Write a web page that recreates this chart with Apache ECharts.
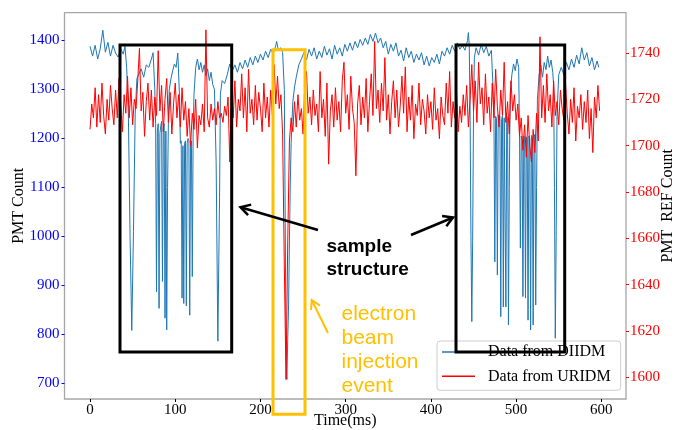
<!DOCTYPE html>
<html><head><meta charset="utf-8">
<script src="https://cdn.jsdelivr.net/npm/echarts@6/dist/echarts.min.js"></script>
<style>html,body{margin:0;padding:0;background:#fff}#c{width:675px;height:430px}</style>
</head><body><div id="c"></div>
<script>
// ---- tick labels ----
const xTicks = [0, 100, 200, 300, 400, 500, 600];
const leftTicks = [700, 800, 900, 1000, 1100, 1200, 1300, 1400];
const rightTicks = [1600, 1620, 1640, 1660, 1680, 1700, 1720, 1740];
const seriesNames = ['Data from DIIDM', 'Data from URIDM'];

// ---- DIIDM (blue, left axis): time (ms) and PMT count ----
const blueTime = [0,3,6,9,12,15,18,21,24,27,30,33,36,39,41,43,45,47,49,51,53,55,57,60,63,66,69,72,74,76,
77,78,79,80,81,82,83,84,85,86,87,88,89,90,91,92,93,95,97,99,101,103,105,106,107,108,109,110,111,112,
113,114,115,116,117,118,119,120,121,122,124,126,128,130,132,134,136,138,140,142,144,146,148,150,152,153,155,158,161,164,
167,170,173,176,179,182,185,188,191,194,197,200,203,206,209,212,215,218,219,221,224,226,228,229,230,231,232,233,234,235,
236,237,238,240,242,245,248,251,254,257,260,263,266,269,272,275,278,281,284,287,290,293,296,299,302,305,308,311,314,317,
320,323,326,329,332,335,338,341,344,347,350,353,356,359,362,365,368,371,374,377,380,383,386,389,392,395,398,401,404,407,
410,413,416,419,422,425,428,431,434,437,440,443,444,445,446,447,448,449,450,451,453,456,459,462,465,468,471,473,474,475,
476,477,478,479,480,481,482,483,484,485,486,487,488,489,490,491,492,493,495,497,499,501,503,504,505,506,507,508,509,510,
511,512,513,514,515,516,517,518,519,520,521,522,523,524,525,527,529,531,533,535,537,539,541,543,544,545,546,547,548,550,
553,556,559,562,565,568,571,574,577,580,583,586,589,592,595,597];
const blueCount = [1388,1368,1390,1362,1383,1421,1376,1396,1368,1390,1374,1366,1383,1372,1388,1345,1250,1000,808,1010,1250,1322,1318,1342,1325,1350,1345,1362,1375,1300,
1230,887,1215,1230,853,1210,1225,1235,908,1220,1230,833,1215,809,1100,1240,1300,1322,1338,1352,1345,1374,1285,1190,1195,874,1185,863,1190,1195,
858,1190,1200,1195,839,1185,1195,918,1210,1290,1345,1362,1340,1355,1335,1350,1328,1342,1318,1335,1310,1300,1150,786,1080,1290,1318,1312,1330,1352,
1338,1350,1335,1355,1342,1360,1345,1365,1350,1368,1355,1372,1360,1378,1365,1382,1372,1390,1398,1380,1385,1375,1300,1050,760,708,790,860,990,1110,
1190,1235,1275,1305,1325,1350,1362,1375,1360,1382,1368,1385,1362,1378,1365,1388,1370,1383,1362,1390,1372,1385,1368,1392,1378,1395,1380,1398,1385,1402,
1390,1405,1392,1412,1398,1415,1395,1405,1385,1398,1372,1392,1378,1395,1368,1380,1358,1385,1365,1378,1355,1372,1360,1375,1350,1368,1348,1365,1355,1372,
1352,1378,1368,1385,1372,1390,1378,1395,1382,1390,1380,1400,1416,1390,1250,1000,826,990,1250,1365,1385,1370,1392,1375,1388,1368,1380,1300,1240,948,
1245,1240,921,1248,1240,1245,836,1238,1246,856,1242,1238,856,1245,1240,819,1100,1290,1330,1352,1338,1362,1345,1210,976,1205,1198,877,1205,1200,
874,1203,1198,829,1205,1200,809,1206,1198,819,1203,1208,860,1100,1280,1330,1350,1325,1355,1340,1368,1345,1360,1335,1310,1100,792,1000,1250,1330,
1345,1330,1355,1340,1362,1345,1370,1352,1385,1360,1375,1348,1365,1340,1358,1345];

// ---- URIDM (red, right axis): one reading every 2 ms from 0 ms ----
const redStepMs = 2;
const redCount = [1707,1718,1712,1725,1708,1722,1710,1727,1713,1705,
1720,1711,1726,1716,1709,1724,1712,1729,1718,1706,
1722,1714,1730,1712,1725,1709,1720,1716,1728,1742,
1715,1723,1704,1719,1727,1711,1724,1708,1721,1713,
1741,1715,1726,1706,1720,1729,1710,1723,1705,1718,
1727,1712,1722,1708,1725,1711,1719,1704,1716,1700,
1714,1707,1720,1699,1713,1709,1718,1706,1750,1712,
1708,1718,1711,1716,1709,1719,1712,1714,1710,1717,
1713,1721,1693,1724,1712,1728,1708,1720,1715,1731,
1712,1725,1706,1733,1714,1720,1709,1726,1711,1723,
1716,1706,1727,1712,1721,1708,1724,1713,1735,1718,
1730,1716,1722,1705,1648,1599,1658,1702,1712,1706,
1719,1708,1722,1711,1716,1705,1726,1732,1714,1721,
1709,1724,1713,1718,1706,1732,1712,1720,1704,1727,
1692,1715,1722,1708,1725,1711,1719,1706,1728,1736,
1714,1722,1707,1730,1716,1710,1687,1718,1726,1709,
1721,1712,1729,1706,1719,1731,1713,1745,1716,1724,
1710,1727,1715,1738,1711,1722,1705,1719,1728,1712,
1724,1708,1717,1730,1714,1734,1706,1721,1711,1726,
1703,1718,1713,1727,1709,1720,1715,1705,1722,1712,
1719,1707,1725,1711,1716,1703,1721,1713,1709,1727,
1714,1732,1708,1719,1712,1724,1706,1717,1710,1722,
1713,1726,1708,1720,1735,1715,1728,1710,1736,1718,
1725,1709,1731,1714,1721,1706,1727,1712,1733,1717,
1708,1724,1713,1736,1710,1719,1705,1728,1715,1722,
1711,1718,1704,1712,1698,1709,1695,1713,1700,1693,
1707,1697,1714,1702,1747,1712,1726,1710,1731,1715,
1722,1708,1728,1713,1719,1709,1724,1716,1711,1727,
1714,1705,1720,1710,1725,1702,1717,1712,1722,1707,
1719,1710,1724,1703,1716,1697,1721,1712,1726,1715];

const blueData = blueTime.map((t, i) => [t, blueCount[i]]);
const redData = redCount.map((v, i) => [i * redStepMs, v]);

const serif = '"Liberation Serif", "Times New Roman", serif';
const sans = '"Liberation Sans", Arial, sans-serif';
const YEL = '#FFC000';
const plain = v => String(v);

function arrow(x1, y1, x2, y2, color, w, len) {
  const dx = x2 - x1, dy = y2 - y1, L = Math.hypot(dx, dy);
  const bx = -dx / L, by = -dy / L, a = Math.PI / 6, c = Math.cos(a), s = Math.sin(a);
  const p1 = [x2 + len * (bx * c - by * s), y2 + len * (bx * s + by * c)];
  const p2 = [x2 + len * (bx * c + by * s), y2 + len * (-bx * s + by * c)];
  return [
    { type: 'line', z: 100, shape: { x1, y1, x2, y2 }, style: { stroke: color, lineWidth: w } },
    { type: 'polyline', z: 100, shape: { points: [p1, [x2, y2], p2] }, style: { stroke: color, lineWidth: w, fill: null } }
  ];
}

const chart = echarts.init(document.getElementById('c'), null, { renderer: 'canvas' });
chart.setOption({
  animation: false,
  backgroundColor: '#fff',
  grid: { left: 64.5, right: 49, top: 12.7, bottom: 31, containLabel: false, outerBoundsMode: 'none',
          show: true, borderColor: '#a6a6a6', borderWidth: 1.3, backgroundColor: 'transparent' },
  legend: {
    orient: 'vertical', left: 437, top: 341,
    padding: [2, 10, 5, 5], itemGap: 6.3, itemWidth: 33, itemHeight: 1.5, icon: 'rect',
    backgroundColor: 'rgba(255,255,255,0.8)', borderColor: '#cccccc', borderWidth: 1, borderRadius: 3,
    textStyle: { fontFamily: serif, fontSize: 16, color: '#000', lineHeight: 18, padding: [0, 0, 0, 8] },
    data: seriesNames, z: 10
  },
  xAxis: {
    type: 'value', min: -29.95, max: 628.95,
    name: 'Time(ms)', nameLocation: 'middle', nameGap: 14, nameMoveOverlap: false,
    nameTextStyle: { fontFamily: serif, fontSize: 16, color: '#000' },
    axisLine: { show: false, onZero: false },
    axisTick: { show: true, length: 3, customValues: xTicks, lineStyle: { color: '#000' } },
    axisLabel: { customValues: xTicks, formatter: plain, fontFamily: serif, fontSize: 15, color: '#000', margin: 4 },
    splitLine: { show: false }
  },
  yAxis: [{
    type: 'value', position: 'left', min: 668, max: 1456.6,
    name: 'PMT Count', nameLocation: 'middle', nameRotate: 90, nameGap: 38, nameMoveOverlap: false,
    nameTextStyle: { fontFamily: serif, fontSize: 16, color: '#000' },
    axisLine: { show: false, onZero: false },
    axisTick: { show: true, length: 3, customValues: leftTicks, lineStyle: { color: '#0000ff' } },
    axisLabel: { customValues: leftTicks, formatter: plain, fontFamily: serif, fontSize: 15, color: '#0000ff', margin: 5 },
    splitLine: { show: false }
  }, {
    type: 'value', position: 'right', min: 1590.6, max: 1757.4,
    name: 'PMT  REF Count', nameLocation: 'middle', nameRotate: 90, nameGap: 34, nameMoveOverlap: false,
    nameTextStyle: { fontFamily: serif, fontSize: 16, color: '#000' },
    axisLine: { show: false, onZero: false },
    axisTick: { show: true, length: 3, customValues: rightTicks, lineStyle: { color: '#ff0000' } },
    axisLabel: { customValues: rightTicks, formatter: plain, fontFamily: serif, fontSize: 15, color: '#ff0000', margin: 4 },
    splitLine: { show: false }
  }],
  series: [{
    name: seriesNames[0], type: 'line', yAxisIndex: 0, data: blueData,
    showSymbol: false, symbol: 'none', lineStyle: { color: '#1f77b4', width: 1 }, itemStyle: { color: '#1f77b4' }
  }, {
    name: seriesNames[1], type: 'line', yAxisIndex: 1, data: redData,
    showSymbol: false, symbol: 'none', lineStyle: { color: '#ff0000', width: 1 }, itemStyle: { color: '#ff0000' }
  }],
  graphic: [
    { type: 'rect', z: 100, shape: { x: 120, y: 45, width: 111.7, height: 307 }, style: { fill: null, stroke: '#000', lineWidth: 3 } },
    { type: 'rect', z: 100, shape: { x: 456, y: 45, width: 108.7, height: 307 }, style: { fill: null, stroke: '#000', lineWidth: 3 } },
    { type: 'rect', z: 100, shape: { x: 273, y: 49.7, width: 32, height: 364.6 }, style: { fill: null, stroke: YEL, lineWidth: 3 } },
    ...arrow(318, 230, 240.5, 207.2, '#000', 2.5, 11),
    ...arrow(411, 235, 453, 217.5, '#000', 2.5, 11),
    ...arrow(328, 333, 311.7, 300, YEL, 2, 10),
    { type: 'text', z: 100, style: { text: 'sample\nstructure', x: 326.5, y: 234.8, fill: '#000', font: 'bold 19px ' + sans, lineHeight: 23.5, align: 'left', verticalAlign: 'top' } },
    { type: 'text', z: 100, style: { text: 'electron\nbeam\ninjection\nevent', x: 341.5, y: 302.3, fill: YEL, font: '21px ' + sans, lineHeight: 23.9, align: 'left', verticalAlign: 'top' } }
  ]
});
</script>
</body></html>
